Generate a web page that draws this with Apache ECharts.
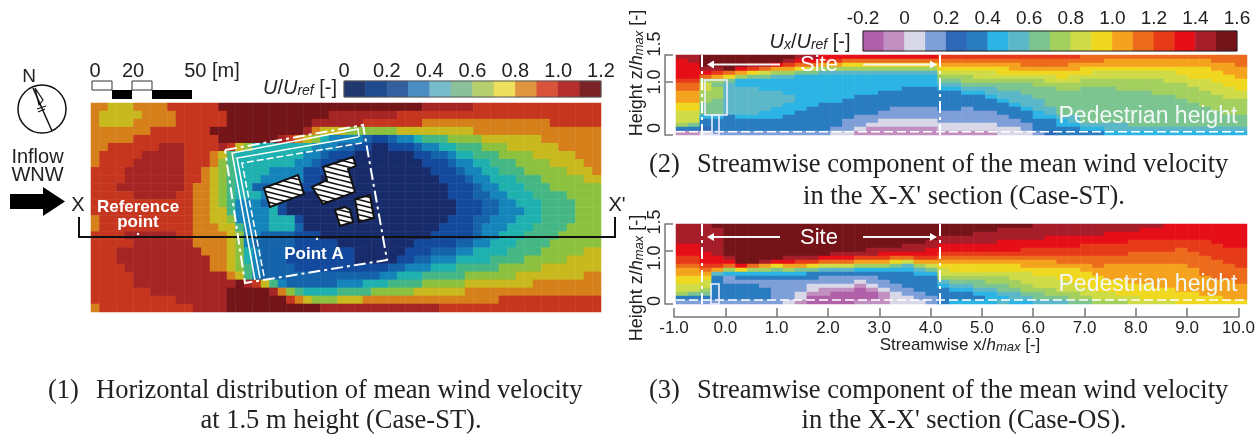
<!DOCTYPE html>
<html><head><meta charset="utf-8"><style>html,body{margin:0;padding:0;background:#fff}#c{width:1258px;height:441px}</style>
<script src="https://cdn.jsdelivr.net/npm/echarts@6/dist/echarts.min.js"></script></head><body><div id="c"></div>
<script>
// Horizontal map: U/Uref class per cell, one run-coded row per line (class:count), classes 0..b = 0..1.2 in 0.1 steps
const mapRows = [
"8:2 7:3 8:4 9:6 b:24 a:6 9:15",
"8:1 7:5 8:4 9:6 b:12 a:8 9:24",
"8:1 7:4 8:5 9:6 b:10 a:6 9:7 8:15 9:6",
"8:7 9:7 b:11 a:1 8:1 7:3 6:6 7:9 8:15",
"8:5 9:10 b:7 a:1 9:1 8:1 7:1 6:1 4:1 3:4 2:1 1:2 2:1 3:2 4:1 5:3 6:4 7:7 8:7",
"8:2 9:6 a:3 9:4 a:1 9:1 7:1 6:1 4:7 3:3 2:2 1:2 0:2 1:3 2:1 3:2 4:2 5:3 6:3 7:6 8:5",
"8:1 9:5 a:5 9:3 8:1 7:1 5:1 4:8 3:2 2:1 1:3 0:7 1:2 2:2 3:1 4:2 5:3 6:4 7:5 8:3",
"8:1 9:4 a:6 9:3 8:1 6:1 5:1 4:7 3:2 2:1 1:2 0:10 1:3 2:1 3:2 4:2 5:3 6:4 7:4 8:2",
"9:4 a:7 9:2 8:1 7:1 6:1 5:1 4:4 3:4 1:3 0:12 1:3 2:1 3:2 4:2 5:3 6:5 7:3 8:1",
"9:4 a:7 9:2 8:1 7:1 6:1 5:1 4:3 3:5 1:2 0:14 1:3 2:1 3:2 4:3 5:3 6:5 7:2",
"9:3 a:8 9:1 8:2 7:1 6:1 5:1 4:2 2:4 1:4 0:15 1:3 2:1 3:2 4:3 5:3 6:6",
"9:5 a:5 9:2 8:2 7:1 6:1 5:1 4:3 3:1 1:3 0:18 1:3 2:2 3:2 4:3 5:4 6:4",
"9:12 8:2 7:1 6:1 5:1 3:3 2:1 4:1 1:1 0:20 1:3 2:2 3:2 4:3 5:4 6:3",
"9:12 8:2 7:2 5:1 3:4 4:1 1:1 0:20 1:3 2:2 3:3 4:2 5:4 6:3",
"8:1 9:11 8:2 7:2 6:1 3:4 4:3 1:1 0:17 1:3 2:2 3:3 4:3 5:4 6:3",
"8:1 9:11 8:3 7:2 5:1 3:3 4:3 2:1 0:16 1:4 2:1 3:3 4:3 5:4 6:4",
"9:4 a:6 9:2 8:4 7:1 6:1 3:2 2:4 1:3 0:13 1:5 2:1 3:2 4:3 5:4 6:5",
"9:5 a:7 8:4 7:1 6:1 3:1 2:5 1:5 0:9 1:5 2:2 3:2 4:3 5:4 6:6",
"9:3 a:10 8:3 7:1 6:1 4:1 3:1 2:3 1:8 0:6 1:3 2:3 3:2 4:4 5:4 6:5 7:2",
"9:3 a:11 8:2 7:1 6:1 4:1 3:1 2:3 1:8 0:5 1:2 2:2 3:3 4:4 5:4 6:5 7:4",
"9:4 a:10 8:2 7:1 6:1 5:1 3:1 2:4 1:11 2:2 3:3 4:3 5:5 6:5 7:7",
"9:5 a:11 8:1 7:1 5:1 3:1 2:14 3:2 4:3 5:5 6:6 7:8 8:2",
"9:5 a:12 b:1 a:1 9:1 7:1 5:1 3:1 2:6 3:3 4:3 5:4 6:5 7:8 8:8",
"9:7 a:9 b:5 a:1 8:1 6:1 5:1 4:4 5:4 6:5 7:6 8:16",
"9:10 a:6 b:7 9:1 8:1 7:1 6:3 7:3 8:16 9:12",
"8:1 9:11 a:4 b:11 a:14 9:19"
];
// Section X-X' Case-ST: Ux/Uref class per cell, one string per column (top to bottom), classes 0..h = -0.2..1.6
const stColumns = [
"gfffffeddcccbbaaa951","ggffffeddcccbbaaa851","hhhgfd9aa99988865542","hhhgec98999888865553","hhhhdb87777777755553",
"hhhfc966777777765553","hhgeb866777777765553","hhgda866677777665553","hhfc9766677776665553","hgec9766667766655553",
"gfdb8666666666555553","gfda8666666665555553","fec97666666655555553","fec97666666655555532","fdb97666666555553332",
"fdb97666665555533321","fdb97666665555533211","fdb97666655555332211","fdb97666655553332211","fdb97666555553332211",
"fdb97666555553332211","fdb97666555553332211","edcba987655555333221","edcba987655555333221","edcba998765553333221",
"edcbaa98765555333221","edcbaa98776555333221","edcbba98877655533322","edccba98877765553322","eddcba98887776555332",
"eddcba99888777665553","eddcbaa9888887765554","eddcbba9988888876655","edccbaa9988888877655","ddcbba99888888888765",
"ddcbaa99888888888765","dccbaa99888888888776","dccbaa99988888888776","dccbaa99988888888876","dccbaa99988888888876",
"dccbaa99998888888876","dccbaaa9998888888876","dccbbaa9999888888876","dccbbbaa999988888876","dccbbbaaa99998888876",
"ddccbbbaaa9999888876","ddcccbbbaaa999988876","dddcccbbbaa999988876"
];
// Section X-X' Case-OS: same coding
const osColumns = [
"gggggfffeedccbbaa953","gggggfffeedccbbaa853","gggggggfffedcbaa9853","hgggggggffec75555553","hhhhhhhhgfd963355553",
"hhhhhhhhhhfb65355553","hhhhhhhhhhd965355553","hhhhhhhhhgc965335553","hhhhhhhhhfb865333333","hhhhhhhhgfc965333332",
"hhhhhhhhgec865333221","hhhhhhhhgeb855322100","hhhhhhhhfda753321100","hhhhhhhgfda753321000","hhhhhhhgfda753321000",
"hhhhhhhgec9653210001","hhhhhhggec9653321001","hhhhhhgfec9655332111","hhhhhhgfdb8655533222","hhhhhggfda7655553322",
"hhhhhggfec9765555332","hhhhggffeca865555533","hhhggffedcbaa9765555","hhhggffedcbba9876556","hhhggffedcbba9876556",
"hhgggffedcbba9887656","hhgggffedcbba9987666","hgggfffedcbba9988767","hgggfffedcbbaa998776","hgggffeedccbaaa99876",
"ggggffeedccbbaaa9887","gggfffeedccbbaaa9987","gggfffeeddcbbbaaa987","gggfffeeddcbbbbaa998","gggffeeeddccbbbbaa98",
"gggffeeedddccbbbbaa9","ggfffeeeddccccbbbaa9","ggfffeeeddccccbbbba9","ggffeeedddcccccbbbaa","gfffeeedddcccccbbbba",
"gfffeeedddccccccbbba","ffffeeedddccccccbbba","ffffeeddddcccccccbbb","ffffeeeddddccccccbbb","ffffeeeedddddcccccbb",
"fffffeeeedddddccccbb","ffffffeeeeddddcccccb","ffffffeeeeeddddccccb"
];
const mapTicks = [0,0.2,0.4,0.6,0.8,1.0,1.2];
const sectionTicks = [-0.2,0,0.2,0.4,0.6,0.8,1.0,1.2,1.4,1.6];
const sectionXTicks = [-1,0,1,2,3,4,5,6,7,8,9,10];
const heightTicks = [0,1,1.5];
const mapColors = ['#182c6c','#134a9e','#1563aa','#1584bb','#1fb1b0','#45b784','#8cc03f','#c8b91f','#d6801c','#c6361f','#a52424','#731519'];
const mapBarColors = ['#21386f','#1f4a8e','#34609f','#4a8ec4','#78bccb','#8cc09a','#b5cf6e','#eedf5c','#e09540','#d9533a','#b52d2c','#7a2226'];
const sectionColors = ['#b060a8','#c290c0','#d8d8e8','#7f9fd8','#2e68b8','#2a7cc0','#2cb4e4','#5cb8c8','#7cc490','#a4d060','#cfdc48','#f0d820','#f5a31f','#ec6b1c','#e63a18','#e60f18','#a61e2a','#741418'];

const CODE = '0123456789abcdefgh';
const SANS = "'Liberation Sans',Arial,sans-serif", SERIF = "'Liberation Serif','Times New Roman',serif";
const mapMatrix = mapRows.map(r => { const a = []; r.split(' ').forEach(p => { const [c,n] = p.split(':'); for (let i=0;i<+n;i++) a.push(CODE.indexOf(c)); }); return a.slice(0,60); });
const toCells = (cols, base) => { const d = []; cols.forEach((s,x) => { for (let y=0;y<20;y++) d.push([x,y,+(base+0.1*CODE.indexOf(s[y])+0.05).toFixed(2)]); }); return d; };
const mapCells = []; mapMatrix.forEach((row,y) => row.forEach((v,x) => mapCells.push([x,y,+(0.1*v+0.05).toFixed(2)])));
const range = n => Array.from({length:n},(_,i)=>String(i));
const pieces = (colors, base) => colors.map((color,i) => ({min:+(base+0.1*i).toFixed(1), max:+(base+0.1*(i+1)).toFixed(1), color}));

const grids=[], xAxes=[], yAxes=[], series=[];
function addGrid(left,top,width,height,x,y){ const i=grids.length; grids.push({left,top,width,height,containLabel:false}); xAxes.push(Object.assign({gridIndex:i,show:false,type:'value'},x)); yAxes.push(Object.assign({gridIndex:i,show:false,type:'value'},y)); return i; }
function heat(rect,nx,ny,cells){ const g=addGrid(rect[0],rect[1],rect[2],rect[3],{type:'category',data:range(nx)},{type:'category',data:range(ny),inverse:true}); series.push({type:'heatmap',xAxisIndex:g,yAxisIndex:g,data:cells,silent:true,progressive:0,animation:false}); return series.length-1; }
const sMap = heat([91,103,510,209],60,26,mapCells);
const sMapBar = heat([344,81,257,16],12,1,mapColors.map((_,i)=>[i,0,+(0.1*i+0.05).toFixed(2)]));
const sSt = heat([676,55,571,80],48,20,toCells(stColumns,-0.2));
const sOs = heat([676,224,571,80],48,20,toCells(osColumns,-0.2));
const sBar = heat([863,31,374,20],18,1,sectionColors.map((_,i)=>[i,0,+(-0.2+0.1*i+0.05).toFixed(2)]));
const fmt = v => v===0?'0':v.toFixed(1);
const labelStyle = {fontFamily:SANS,fontSize:20,color:'#222',margin:0,formatter:fmt,hideOverlap:false,showMinLabel:true,showMaxLabel:true};
addGrid(344,81,257,16,{show:true,position:'top',min:0,max:1.2,interval:0.2,axisLine:{show:false},axisTick:{show:false},splitLine:{show:false},axisLabel:labelStyle},{});
addGrid(863,31,374,20,{show:true,position:'top',min:-0.2,max:1.6,interval:0.2,axisLine:{show:false},axisTick:{show:false},splitLine:{show:false},axisLabel:Object.assign({},labelStyle,{fontSize:19,margin:3})},{});
const axisGray={lineStyle:{color:'#777',width:1.5}};
addGrid(674,230,572,87,{show:true,position:'bottom',min:-1,max:10,interval:1,axisLine:Object.assign({show:true},axisGray),axisTick:{show:true,inside:true,length:9,lineStyle:axisGray.lineStyle,customValues:sectionXTicks},splitLine:{show:false},
  axisLabel:{fontFamily:SANS,fontSize:17,color:'#222',margin:3,formatter:v=>v.toFixed(1),hideOverlap:false,showMinLabel:true,showMaxLabel:true}},{});
[[55],[224]].forEach(([t])=>addGrid(665,t,9,80,{},{show:true,position:'left',min:0,max:1.5,axisLine:Object.assign({show:true},axisGray),axisTick:{show:true,inside:true,length:8,lineStyle:axisGray.lineStyle,customValues:heightTicks},axisLabel:{show:false},splitLine:{show:false}}));

// hatch pattern for the buildings
const tile=document.createElement('canvas');tile.width=20;tile.height=5;const tc=tile.getContext('2d');tc.fillStyle='#fff';tc.fillRect(0,0,20,5);tc.strokeStyle='#111';tc.lineWidth=1.6;
for(let k=-5;k<=5;k+=5){tc.beginPath();tc.moveTo(0,k);tc.lineTo(20,k+5);tc.stroke();}
const white='#fff', Z=100;
const T=(text,x,y,o={})=>({type:'text',z:Z,x,y,rotation:o.rotation||0,style:Object.assign({text,fontFamily:SANS,fontSize:20,fill:'#222',align:'center',verticalAlign:'middle'},o.style||{})});
const P=(pts,o={})=>({type:'polyline',z:Z,shape:{points:pts},style:Object.assign({stroke:white,lineWidth:2,fill:null},o)});
const DD=[12,4,3,4];
const G=[];
// compass, inflow, scale
G.push({type:'circle',z:Z,shape:{cx:42,cy:109,r:24},style:{stroke:'#111',lineWidth:1.5,fill:'#fff'}});
G.push(P([[33,88],[52,131]],{stroke:'#111',lineWidth:1.5}),P([[35,88],[43,100],[39,105],[35,88]],{stroke:'#111',lineWidth:1.2}),P([[37,109],[46,106]],{stroke:'#111',lineWidth:1.2}),P([[38,112],[45,109]],{stroke:'#111',lineWidth:1.2}));
G.push(T('N',29,77,{style:{fontSize:19}}),T('Inflow',37.5,157),T('WNW',37.5,175));
G.push({type:'polygon',z:Z,shape:{points:[[10,194],[43,194],[43,187],[65,201.5],[43,216],[43,209],[10,209]]},style:{fill:'#000'}});
G.push(T('X',78,205),T("X'",617,205));
[[92,81,20,'w'],[112,90,20,'b'],[132,81,20,'w'],[152,90,40,'b']].forEach(([x,y,w,k])=>G.push({type:'rect',z:Z,shape:{x,y,width:w,height:9},style:k==='w'?{fill:'#fff',stroke:'#333',lineWidth:1}:{fill:'#000'}}));
G.push(T('0',95,71),T('20',133,71),T('50 [m]',212,71));
G.push(T('{i|U}/{i|U}{s|ref} [-]',300,88,{style:{rich:{i:{fontStyle:'italic',fontSize:20,fontFamily:SANS},s:{fontStyle:'italic',fontSize:14,fontFamily:SANS,verticalAlign:'bottom',padding:[6,0,0,0]}}}}));
G.push(T('{i|U}{s|x}/{i|U}{s|ref} [-]',810,42,{style:{rich:{i:{fontStyle:'italic',fontSize:20,fontFamily:SANS},s:{fontStyle:'italic',fontSize:14,fontFamily:SANS,verticalAlign:'bottom',padding:[6,0,0,0]}}}}));
G.push({type:'rect',z:Z,shape:{x:344,y:81,width:257,height:16},style:{fill:null,stroke:'#555',lineWidth:1}},{type:'rect',z:Z,shape:{x:863,y:31,width:374,height:20},style:{fill:null,stroke:'#222',lineWidth:1}});
// map annotation
G.push(P([[79,217],[79,237],[615,237],[615,217]],{stroke:'#111',lineWidth:2}));
G.push(P([[225,150],[363,125],[387,260],[245,283],[225,150]],{lineDash:DD}));
G.push(P([[255,280],[232,153],[358,129],[359,137]],{lineWidth:1.5}),P([[260,278],[237,158],[358,137]],{lineWidth:1.5}),P([[264,276],[242,163],[362,143]],{lineWidth:1.5,lineDash:[7,3]}));
const hatch={image:tile,repeat:'repeat'};
[[[264,188],[298,175],[304,194],[270,207]],
 [[312,187],[327,180],[323,167],[353,157],[356,166],[348,169],[355,192],[323,204]],
 [[335,210],[345,207],[350,210],[353,222],[340,226]],
 [[355,199],[370,195],[374,218],[359,222]]].forEach(p=>G.push({type:'polygon',z:Z,shape:{points:p},style:{fill:hatch,stroke:'#111',lineWidth:2}}));
const B={fontWeight:'bold',fill:white,fontSize:17};
G.push(T('Reference',138,207,{style:B}),T('point',138,222,{style:B}),T('Point A',314,254,{style:B}));
G.push({type:'circle',z:Z,shape:{cx:138,cy:234,r:1.2},style:{fill:white}},{type:'circle',z:Z,shape:{cx:317,cy:239,r:1.2},style:{fill:white}});
// section annotations
[[55,64.5,131.7],[224,237,300]].forEach(([t,ya,yd],k)=>{
  G.push(P([[702,t],[702,t+80]],{lineDash:DD}),P([[940,t],[940,t+80]],{lineDash:DD}));
  G.push(P([[676,yd],[1247,yd]],{lineDash:[9,4],lineWidth:1.5}));
  G.push(T('Site',819,ya+0.5,{style:{fill:'#fff',fontSize:22}}));
  G.push(P([[712,ya],[780,ya]],{stroke:'#f4f4f4'}),P([[863,ya],[932,ya]],{stroke:'#f4f4f4'}));
  G.push({type:'polygon',z:Z,shape:{points:[[707,ya],[714,ya-4],[714,ya+4]]},style:{fill:white}},{type:'polygon',z:Z,shape:{points:[[937,ya],[930,ya-4],[930,ya+4]]},style:{fill:white}});
  G.push(T('Pedestrian height',1148,t+62-(k?1:0),{style:{fill:'#f2f8f6',fontSize:23}}));
});
G.push({type:'rect',z:Z,shape:{x:705,y:80,width:22,height:35},style:{fill:null,stroke:'#eef',lineWidth:1.6}},{type:'rect',z:Z,shape:{x:712,y:115,width:7,height:20},style:{fill:null,stroke:'#eef',lineWidth:1.6}},{type:'rect',z:Z,shape:{x:711,y:284,width:8,height:20},style:{fill:null,stroke:'#eef',lineWidth:1.6}});
// section axis titles and height tick labels
const RH={i:{fontStyle:'italic',fontSize:18,fontFamily:SANS},s:{fontStyle:'italic',fontSize:13,fontFamily:SANS,verticalAlign:'bottom',padding:[5,0,0,0]}};
G.push(T('Height z/{i|h}{s|max} [-]',637,73,{rotation:Math.PI/2,style:{fontSize:18,rich:RH}}));
G.push(T('Height z/{i|h}{s|max} [-]',637,278,{rotation:Math.PI/2,style:{fontSize:18,rich:RH}}));
[[655,44,'1.5'],[655,82,'1.0'],[655,128,'0'],[655,222,'1.5'],[655,258,'1.0'],[655,301,'0']].forEach(([x,y,s])=>G.push(T(s,x,y,{rotation:Math.PI/2,style:{fontSize:18}})));
G.push(T('Streamwise x/{i|h}{s|max} [-]',960,345,{style:{fontSize:17,rich:{i:{fontStyle:'italic',fontSize:17,fontFamily:SANS},s:{fontStyle:'italic',fontSize:13,fontFamily:SANS,verticalAlign:'bottom',padding:[5,0,0,0]}}}}));
// captions
const C=(t,x,y,a='left')=>T(t,x,y,{style:{fontFamily:SERIF,fontSize:26.5,fill:'#222',align:a}});
G.push(C('(1)',48,391),C('Horizontal distribution of mean wind velocity',96,391),C('at 1.5 m height (Case-ST).',341,421,'center'));
G.push(C('(2)',649,165),C('Streamwise component of the mean wind velocity',697,165),C("in the X-X' section (Case-ST).",964,197,'center'));
G.push(C('(3)',649,391),C('Streamwise component of the mean wind velocity',697,391),C("in the X-X' section (Case-OS).",964,421,'center'));

const chart=echarts.init(document.getElementById('c'),null,{renderer:'canvas'});
chart.setOption({animation:false,backgroundColor:'#fff',grid:grids,xAxis:xAxes,yAxis:yAxes,series,
 visualMap:[
  {type:'piecewise',show:false,dimension:2,seriesIndex:[sMap],pieces:pieces(mapColors,0)},
  {type:'piecewise',show:false,dimension:2,seriesIndex:[sMapBar],pieces:pieces(mapBarColors,0)},
  {type:'piecewise',show:false,dimension:2,seriesIndex:[sSt,sOs,sBar],pieces:pieces(sectionColors,-0.2)}],
 graphic:{elements:G}});
</script></body></html>
